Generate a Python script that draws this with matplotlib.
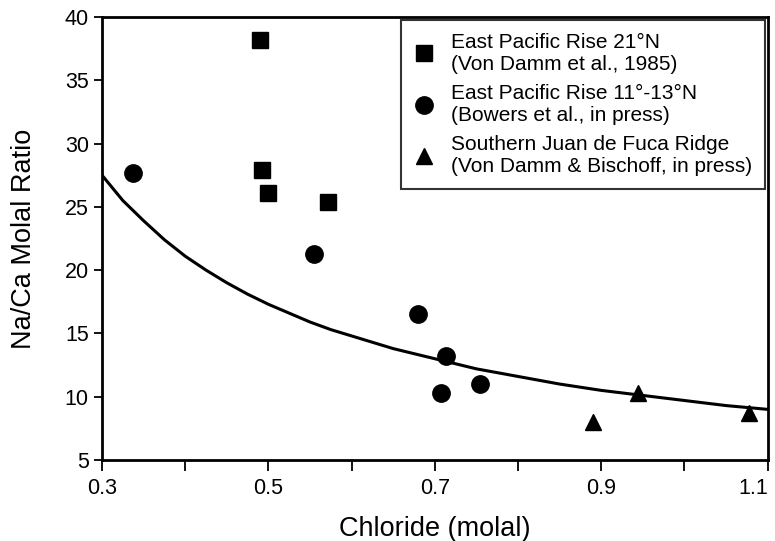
import matplotlib.pyplot as plt

plt.rcParams['font.family'] = ['Liberation Sans', 'DejaVu Sans']

# East Pacific Rise 21N (squares)
epr21_cl = [0.490, 0.492, 0.499, 0.572]
epr21_naca = [38.2, 27.9, 26.1, 25.4]

# East Pacific Rise 11-13N (circles)
epr11_cl = [0.337, 0.555, 0.680, 0.713, 0.707, 0.754]
epr11_naca = [27.7, 21.3, 16.5, 13.2, 10.3, 11.0]

# Southern Juan de Fuca Ridge (triangles)
jdf_cl = [0.890, 0.944, 1.078]
jdf_naca = [8.0, 10.3, 8.7]

# curve
curve_cl = [0.30, 0.325, 0.35, 0.375, 0.40, 0.425, 0.45, 0.475, 0.50, 0.525,
            0.55, 0.575, 0.60, 0.65, 0.70, 0.75, 0.80, 0.85, 0.90, 0.95,
            1.00, 1.05, 1.10]
curve_naca = [27.5, 25.5, 23.9, 22.4, 21.1, 20.0, 19.0, 18.1, 17.3, 16.6,
              15.9, 15.3, 14.8, 13.8, 13.0, 12.2, 11.6, 11.0, 10.5, 10.1,
              9.7, 9.3, 9.0]

labels = ["East Pacific Rise 21°N\n(Von Damm et al., 1985)",
          "East Pacific Rise 11°-13°N\n(Bowers et al., in press)",
          "Southern Juan de Fuca Ridge\n(Von Damm & Bischoff, in press)"]

fig = plt.figure(figsize=(7.75, 5.41), dpi=100)
ax = fig.add_axes([0.1316, 0.1497, 0.859, 0.819])

ax.plot(curve_cl, curve_naca, color="black", lw=2.2)
ax.plot(epr21_cl, epr21_naca, "s", color="black", ms=12, label=labels[0])
ax.plot(epr11_cl, epr11_naca, "o", color="black", ms=12.5, label=labels[1])
ax.plot(jdf_cl, jdf_naca, "^", color="black", ms=11, label=labels[2])

ax.set_xlim(0.3, 1.1)
ax.set_ylim(5, 40)
ax.set_xticks([0.3, 0.5, 0.7, 0.9, 1.1])
ax.set_xticklabels(["0.3", "0.5", "0.7", "0.9", "1.1"])
ax.set_xticks([0.4, 0.6, 0.8, 1.0], minor=True)
ax.set_yticks(range(5, 41, 5))
ax.tick_params(axis="x", which="both", direction="out", length=8, width=1.3,
               labelsize=15.5, colors="black", pad=5)
ax.tick_params(axis="y", direction="out", length=6, width=1.3, labelsize=15.5)
ax.get_xticklabels()[-1].set_horizontalalignment("right")

for s in ax.spines.values():
    s.set_linewidth(2)

ax.set_xlabel("Chloride (molal)", fontsize=19.5, labelpad=12)
ax.set_ylabel("Na/Ca Molal Ratio", fontsize=19.5, labelpad=20)

leg = ax.legend(loc="upper right", fontsize=15, frameon=True, fancybox=False,
                borderaxespad=0.15, handletextpad=0.8, labelspacing=0.5,
                borderpad=0.6, handlelength=1.0)
leg.get_frame().set_edgecolor("black")
leg.get_frame().set_linewidth(1.5)
for t in leg.get_texts():
    t.set_linespacing(1.2)

fig.savefig("out.png")
